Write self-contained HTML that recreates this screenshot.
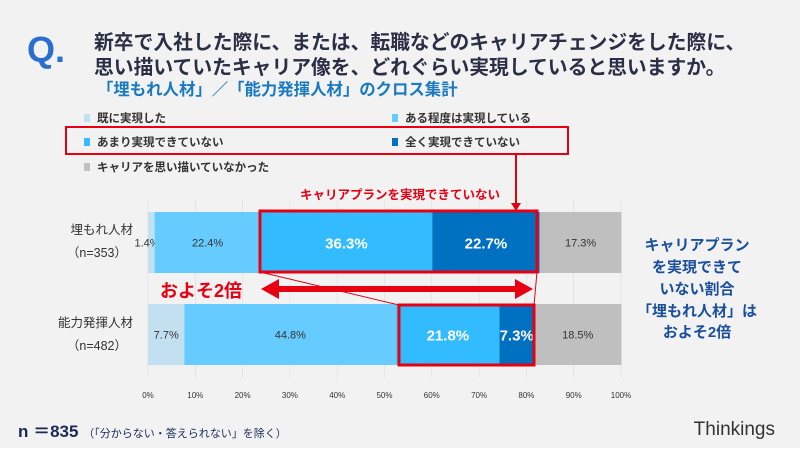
<!DOCTYPE html>
<html><head><meta charset="utf-8"><style>
body{margin:0;width:800px;height:452px;overflow:hidden;background:#f2f2f2;font-family:"Liberation Sans","Noto Sans CJK JP",sans-serif;}
svg{position:absolute;left:0;top:0}
</style></head><body>
<svg width="800" height="452">
<rect x="0" y="448" width="800" height="4" fill="#fff"/>
<text x="27" y="62" font-size="36" font-weight="bold" fill="#2a6fd0">Q.</text>
<g font-size="19.8" font-weight="bold" fill="#2a2f45">
<text x="94" y="49">新卒で入社した際に、または、転職などのキャリアチェンジをした際に、</text>
<text x="94" y="74">思い描いていたキャリア像を、どれぐらい実現していると思いますか。</text>
</g>
<text x="97" y="95" font-size="16.4" font-weight="bold" fill="#1a7ac0">「埋もれ人材」／「能力発揮人材」のクロス集計</text>
<g id="legend" font-size="11.5" font-weight="bold" fill="#333"></g>
<rect x="66" y="127" width="502" height="27" fill="none" stroke="#e60012" stroke-width="2"/>
<g id="grid"></g>
<g id="bars"></g>
<g id="xticks" font-size="8" fill="#333" text-anchor="middle"></g>
<g font-size="12.5" fill="#333" text-anchor="end">
<text x="133" y="234">埋もれ人材</text>
<text x="127" y="257">（n=353）</text>
<text x="133" y="327">能力発揮人材</text>
<text x="127" y="350">（n=482）</text>
</g>
<g stroke="#e60012" fill="none">
<rect x="260" y="211" width="277" height="61" stroke-width="3"/>
<rect x="399" y="305" width="135" height="60" stroke-width="3"/>
<line x1="260" y1="272" x2="399" y2="305" stroke-width="1"/>
<line x1="537" y1="272" x2="534" y2="305" stroke-width="1"/>
<line x1="516" y1="154" x2="516" y2="205" stroke-width="2"/>
</g>
<polygon points="511,203 521,203 516,211" fill="#e60012"/>
<text x="400" y="199" font-size="12.5" font-weight="bold" fill="#e60012" text-anchor="middle">キャリアプランを実現できていない</text>
<g fill="#e60012">
<rect x="276" y="286" width="242" height="6"/>
<polygon points="261,289 279,279 279,299"/>
<polygon points="533,289 515,279 515,299"/>
</g>
<text x="160" y="297" font-size="18" font-weight="bold" fill="#e60012">およそ2倍</text>
<g font-size="15" font-weight="bold" fill="#1a4f9c" text-anchor="middle">
<text x="697" y="250">キャリアプラン</text>
<text x="697" y="272">を実現できて</text>
<text x="697" y="294">いない割合</text>
<text x="697" y="316">「埋もれ人材」は</text>
<text x="697" y="337">およそ2倍</text>
</g>
<text x="18" y="437" font-size="17" font-weight="bold" fill="#1a2a55">n ＝835 <tspan font-size="11" font-weight="normal">（「分からない・答えられない」を除く）</tspan></text>
<text x="775" y="435" font-size="19" fill="#333" text-anchor="end">Thinkings</text>
</svg>
<script>
const categories=["埋もれ人材","能力発揮人材"];
const seriesNames=["既に実現した","ある程度は実現している","あまり実現できていない","全く実現できていない","キャリアを思い描いていなかった"];
const s1=[1.4,7.7];
const s2=[22.4,44.8];
const s3=[36.3,21.8];
const s4=[22.7,7.3];
const s5=[17.3,18.5];
const ticks=[0,10,20,30,40,50,60,70,80,90,100];
const colors=["#c2e0f0","#66ccff","#33bbff","#0070c0","#bfbfbf"];
const labelColors=["#333","#333","#fff","#fff","#333"];
const NS="http://www.w3.org/2000/svg";
const x0=148,x1=621;
function xs(v){return x0+(x1-x0)*v/100;}
const barY=[212,304],barH=61;
const grid=document.getElementById('grid');
const xt=document.getElementById('xticks');
ticks.forEach(t=>{
 const l=document.createElementNS(NS,'line');
 
 
 l.setAttribute('x1',xs(t));l.setAttribute('x2',xs(t));l.setAttribute('y1',200);l.setAttribute('y2',378);
 l.setAttribute('stroke','#dcdcdc');l.setAttribute('stroke-width','0.6');grid.appendChild(l);
 const tx=document.createElementNS(NS,'text');
 
 
 tx.setAttribute('x',xs(t));tx.setAttribute('y',398);tx.textContent=t+'%';xt.appendChild(tx);
});
const series=[s1,s2,s3,s4,s5];
const bars=document.getElementById('bars');
categories.forEach((c,i)=>{
 let acc=0;
 series.forEach((s,k)=>{
  const v=s[i];
  const r=document.createElementNS(NS,'rect');
  
  
  r.setAttribute('x',xs(acc));r.setAttribute('width',xs(acc+v)-xs(acc));
  r.setAttribute('y',barY[i]);r.setAttribute('height',barH);r.setAttribute('fill',colors[k]);
  bars.appendChild(r);
  const big=(k==2||k==3);
  const t=document.createElementNS(NS,'text');
  
  
  let cx=xs(acc+v/2);
  if(k==0&&v<3)cx=xs(acc)-1;
  t.setAttribute('x',cx);t.setAttribute('y',barY[i]+barH/2+(big?6:4));
  t.setAttribute('text-anchor','middle');
  t.setAttribute('font-size',big?15:11);
  if(big)t.setAttribute('font-weight','bold');
  t.setAttribute('fill',labelColors[k]);
  t.textContent=v.toFixed(1)+'%';
  bars.appendChild(t);
  acc+=v;
 });
});
const lg=document.getElementById('legend');
const lpos=[[88,122],[396,122],[88,146],[396,146],[88,171]];
seriesNames.forEach((n,k)=>{
 const r=document.createElementNS(NS,'rect');
 
 
 r.setAttribute('x',lpos[k][0]-4);r.setAttribute('y',lpos[k][1]-8);r.setAttribute('width',6);r.setAttribute('height',8);r.setAttribute('fill',colors[k]);
 lg.appendChild(r);
 const t=document.createElementNS(NS,'text');
 
 
 t.setAttribute('x',lpos[k][0]+9);t.setAttribute('y',lpos[k][1]);t.textContent=n;
 lg.appendChild(t);
});
</script>
</body></html>
